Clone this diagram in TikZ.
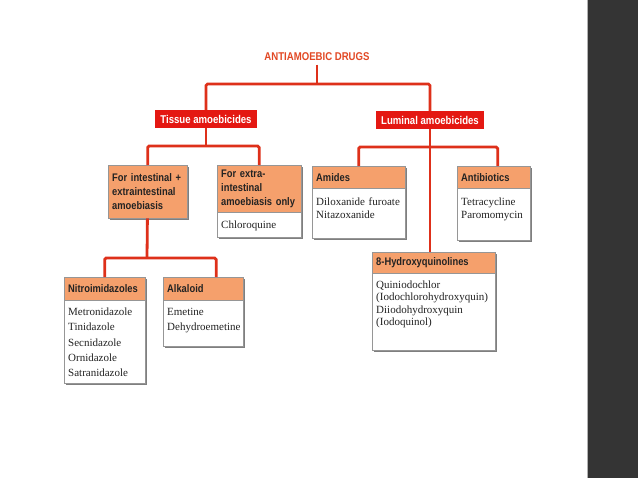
\documentclass[tikz,border=0pt]{standalone}
\usepackage{fontspec}
\setmainfont{Liberation Serif}
\newfontfamily\headfont[FakeStretch=0.85]{Liberation Sans}
\usetikzlibrary{positioning,shadows}
\definecolor{ink}{RGB}{35,35,35}
\definecolor{edge}{RGB}{150,150,150}
\definecolor{shade}{RGB}{105,105,105}
\definecolor{headfill}{RGB}{245,160,108}
\definecolor{grpred}{RGB}{228,24,18}
\definecolor{linkred}{RGB}{222,48,26}
\definecolor{titlered}{RGB}{226,72,36}
\definecolor{slide}{RGB}{52,52,52}
\tikzset{
  card/.style={draw=edge, line width=0.4pt, anchor=north west, align=left, inner xsep=4pt,
    drop shadow={shadow xshift=1.6pt, shadow yshift=-1.6pt, fill=shade, opacity=0.85}},
  hd/.style={card, fill=headfill, text=ink, inner ysep=2pt, font=\headfont\bfseries\fontsize{11}{13.7}\selectfont},
  bd/.style={card, fill=white, text=ink, inner ysep=0pt, font=\fontsize{11}{13}\selectfont},
  grp/.style={fill=grpred, text=white, inner xsep=5pt, minimum height=18pt, font=\headfont\bfseries\fontsize{11.3}{13}\selectfont},
  toplabel/.style={text=titlered, font=\headfont\bfseries\fontsize{11.3}{13}\selectfont},
  link/.style={draw=linkred, line width=2.8pt, rounded corners=1.5pt},
}
\begin{document}
\begin{tikzpicture}[x=1pt, y=-1pt]
  \useasboundingbox (0,0) rectangle (638,479);
  \fill[white] (0,0) rectangle (638,479);
  \fill[slide] (587,0) rectangle (638,478);
  \draw[gray!60, line width=0.8pt] (587,0) -- (587,478);

  \node[toplabel] (drugs) at (317,57) {ANTIAMOEBIC DRUGS};
  \node[grp, minimum width=102pt] (tissue) at (206,119) {Tissue amoebicides};
  \node[grp, minimum width=107pt] (luminal) at (430,120) {Luminal amoebicides};

  \node[hd, text width=71pt, minimum height=53pt] (intx) at (108,165) {For intestinal +\\extraintestinal\\amoebiasis};
  \node[hd, text width=76pt, minimum height=47pt] (extra) at (217,165) {For extra-\\intestinal\\amoebiasis only};
  \node[bd, text width=76pt, text height=16pt, text depth=9pt, below=0pt of extra.south west, anchor=north west] (extrab) {Chloroquine};

  \node[hd, text width=85pt, minimum height=22pt] (amides) at (312,166) {Amides};
  \node[bd, text width=85pt, text height=17pt, text depth=33pt, below=0pt of amides.south west, anchor=north west] (amidesb) {Diloxanide furoate\\Nitazoxanide};

  \node[hd, text width=65pt, minimum height=22pt] (antib) at (457,166) {Antibiotics};
  \node[bd, text width=65pt, text height=17pt, text depth=35pt, below=0pt of antib.south west, anchor=north west] (antibb) {Tetracycline\\Paromomycin};

  \node[hd, text width=115pt, minimum height=21pt] (hq) at (372,252) {8-Hydroxyquinolines};
  \node[bd, text width=115pt, text height=15pt, text depth=62pt, font=\fontsize{11}{12.3}\selectfont, below=0pt of hq.south west, anchor=north west] (hqb) {Quiniodochlor\\(Iodochlorohydroxyquin)\\Diiodohydroxyquin\\(Iodoquinol)};

  \node[hd, text width=73pt, minimum height=23pt] (nitro) at (64,277) {Nitroimidazoles};
  \node[bd, text width=73pt, text height=15pt, text depth=68pt, font=\fontsize{11}{15.3}\selectfont, below=0pt of nitro.south west, anchor=north west] (nitrob) {Metronidazole\\Tinidazole\\Secnidazole\\Ornidazole\\Satranidazole};

  \node[hd, text width=72pt, minimum height=23pt] (alk) at (163,277) {Alkaloid};
  \node[bd, text width=72pt, text height=15pt, text depth=31pt, font=\fontsize{11}{15}\selectfont, below=0pt of alk.south west, anchor=north west] (alkb) {Emetine\\Dehydroemetine};

  \coordinate (dj) at (317,84);
  \coordinate (tj) at (206,146);
  \coordinate (lj) at (430,147);
  \coordinate (ij) at (147,258);
  \draw[link] (drugs) -- (dj);
  \draw[link] (tissue) |- (dj) -| (luminal);
  \draw[link] (tissue) -- (tj);
  \draw[link] (intx) |- (tj) -| (extra);
  \draw[link] (luminal) -- (lj) -- (lj |- hq.north);
  \draw[link] (amides) |- (lj) -| ([xshift=4pt]antib.north);
  \draw[link] (intx) -- (ij);
  \draw[link] (nitro) |- (ij) -| ([xshift=13pt]alk.north);
\end{tikzpicture}
\end{document}
